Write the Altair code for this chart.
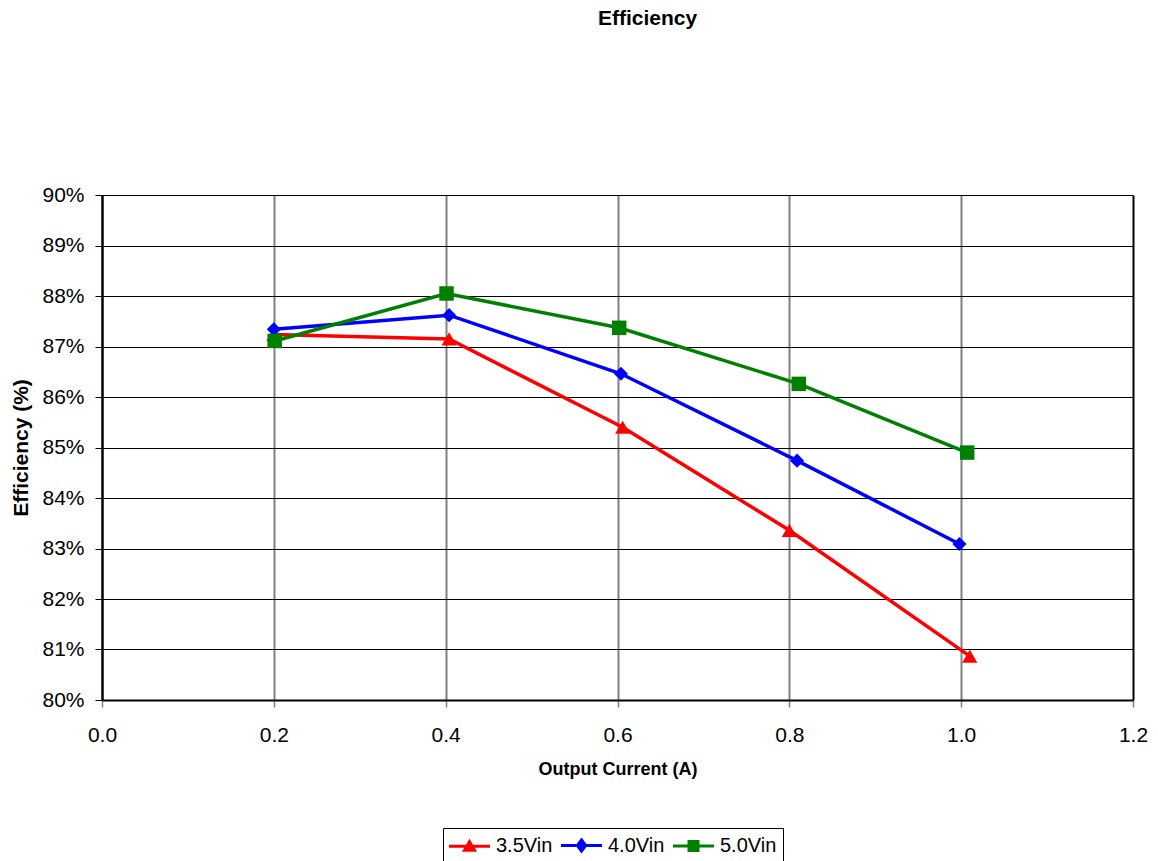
import altair as alt
import pandas as pd

# ---- data ----
series = ["3.5Vin", "4.0Vin", "5.0Vin"]
colors = ["#FF0000", "#0000FF", "#008000"]
marker_shapes = ["triangle-up", "diamond", "square"]
marker_sizes = [230, 200, 210]

current_35 = [0.200, 0.404, 0.606, 0.800, 1.010]
eff_35 = [87.24, 87.15, 85.40, 83.36, 80.87]
current_40 = [0.200, 0.404, 0.604, 0.809, 0.998]
eff_40 = [87.34, 87.62, 86.46, 84.74, 83.09]
current_50 = [0.201, 0.401, 0.602, 0.811, 1.007]
eff_50 = [87.11, 88.05, 87.37, 86.26, 84.90]

x_ticks = [0.0, 0.2, 0.4, 0.6, 0.8, 1.0, 1.2]
y_ticks_pct = [80, 81, 82, 83, 84, 85, 86, 87, 88, 89, 90]

# legend symbols: a line segment with the series marker on it
legend_paths = [
    "M-2.05,0H2.05M0,-0.45L0.5,0.42L-0.5,0.42Z",
    "M-2.05,0H2.05M0,-0.55L0.42,0L0,0.55L-0.42,0Z",
    "M-2.05,0H2.05M-0.45,-0.45H0.45V0.45H-0.45Z",
]

rows = []
for s, xs, ys in zip(series, [current_35, current_40, current_50], [eff_35, eff_40, eff_50]):
    for i, (xv, yv) in enumerate(zip(xs, ys)):
        rows.append({"Series": s, "Current": xv, "Eff": yv / 100.0, "idx": i})
df = pd.DataFrame(rows)

FONT = "Liberation Sans"

color_scale = alt.Scale(domain=series, range=colors)

x_enc = alt.X(
    "Current:Q",
    scale=alt.Scale(domain=[0.0, 1.2], nice=False, zero=False),
    axis=alt.Axis(
        values=x_ticks,
        format=".1f",
        title="Output Current (A)",
        grid=True,
        gridColor={
            "condition": {"test": "datum.value < 0.001 || datum.value > 1.199", "value": "black"},
            "value": "#808080",
        },
        gridWidth=2,
        domainColor="black",
        domainWidth=2,
        tickColor="#808080",
        tickSize=7,
        tickWidth=1.5,
        labelFont=FONT,
        labelFontSize=21,
        labelColor="black",
        labelPadding=17,
        labelFlush=False,
        labelOverlap=False,
        titleFont=FONT,
        titleFontSize=18,
        titleFontWeight="bold",
        titleColor="black",
        titlePadding=15,
    ),
)

y_enc = alt.Y(
    "Eff:Q",
    scale=alt.Scale(domain=[0.80, 0.90], nice=False, zero=False),
    axis=alt.Axis(
        values=[v / 100.0 for v in y_ticks_pct],
        format=".0%",
        title="Efficiency (%)",
        grid=True,
        gridColor="black",
        gridWidth=1,
        domainColor="black",
        domainWidth=2,
        tickColor="black",
        tickSize=7,
        tickWidth=1,
        labelFont=FONT,
        labelFontSize=21,
        labelColor="black",
        labelPadding=11,
        labelOverlap=False,
        titleFont=FONT,
        titleFontSize=21,
        titleFontWeight="bold",
        titleColor="black",
        titlePadding=10,
    ),
)

legend = alt.Legend(
    title=None,
    orient="none",
    legendX=341,
    legendY=633,
    direction="horizontal",
    strokeColor="black",
    fillColor="white",
    padding=6,
    labelFont=FONT,
    labelFontSize=20,
    labelColor="black",
    symbolSize=400,
    symbolStrokeWidth=3,
    symbolOpacity=1,
    symbolOffset=9,
    labelOffset=15,
    columnPadding=2,
)

base = alt.Chart(df)

legend_layer = base.mark_point(filled=True, opacity=0, strokeWidth=3).encode(
    x=x_enc,
    y=y_enc,
    color=alt.Color("Series:N", scale=color_scale, legend=legend),
    stroke=alt.Stroke("Series:N", scale=color_scale, legend=legend),
    shape=alt.Shape("Series:N", scale=alt.Scale(domain=series, range=legend_paths), legend=legend),
)

lines = base.mark_line(strokeWidth=3.5).encode(
    x=x_enc,
    y=y_enc,
    color=alt.Color("Series:N", scale=color_scale),
    order="idx:Q",
)

point_layers = []
for s, shp, sz in zip(series, marker_shapes, marker_sizes):
    point_layers.append(
        base.transform_filter(alt.datum.Series == s)
        .mark_point(filled=True, shape=shp, size=sz, opacity=1, strokeWidth=0)
        .encode(x=x_enc, y=y_enc, color=alt.Color("Series:N", scale=color_scale))
    )

chart = (
    alt.layer(legend_layer, lines, *point_layers)
    .properties(
        width=1031,
        height=505,
        padding={"left": 102, "top": 195, "right": 25, "bottom": 161},
        autosize=alt.AutoSizeParams(type="none"),
        title=alt.Title(
            "Efficiency",
            font=FONT,
            fontSize=21,
            fontWeight="bold",
            color="black",
            anchor="middle",
            offset=155,
            dx=30,
        ),
    )
    .configure_view(stroke="black", strokeWidth=2)
    .configure(background="white")
)

chart.save("out.html", embed_options={"renderer": "svg", "actions": False})
